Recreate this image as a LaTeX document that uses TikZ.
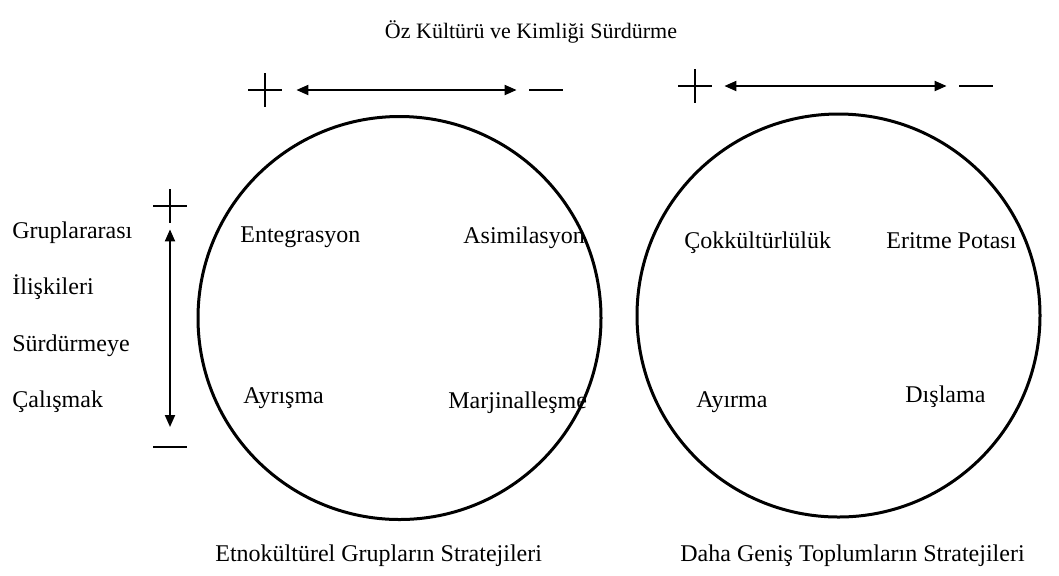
\documentclass[tikz,border=0pt]{standalone}
\usepackage{fontspec}
\setmainfont{Liberation Serif}
\usepackage{tikz}
\usetikzlibrary{positioning, arrows.meta}

\tikzset{
    txt/.style={inner sep=0pt, anchor=base west, font=\fontsize{12}{14}\selectfont},
    strategy/.style={draw, circle, line width=1.5pt, minimum size=201.5pt, inner sep=0pt},
    plussign/.style={minimum size=17pt, inner sep=0pt,
        path picture={\draw[line width=1.4pt]
            (path picture bounding box.north) -- (path picture bounding box.south)
            (path picture bounding box.west) -- (path picture bounding box.east);}},
    minussign/.style={minimum width=17pt, minimum height=1.6pt, inner sep=0pt,
        path picture={\draw[line width=1.4pt]
            (path picture bounding box.west) -- (path picture bounding box.east);}},
    axis/.style={{Triangle[length=6pt, width=5pt]}-{Triangle[length=6pt, width=5pt]}, line width=1pt}
}

\begin{document}
\begin{tikzpicture}[x=0.5pt, y=-0.5pt]
\useasboundingbox (0,0) rectangle (1059,575);

\node[txt, anchor=base, font=\fontsize{11}{13}\selectfont] (title) at (531,38) {Öz Kültürü ve Kimliği Sürdürme};

\node[plussign] (plusA) at (265,90) {};
\node[minussign] (minusA) at (546,90) {};
\draw[axis, shorten <=7pt, shorten >=6pt] (plusA) -- (minusA);

\node[plussign] (plusB) at (695,86) {};
\node[minussign] (minusB) at (976,86) {};
\draw[axis, shorten <=6pt, shorten >=6pt] (plusB) -- (minusB);

\node[plussign] (plusC) at (170,206) {};
\node[minussign] (minusC) at (170,447) {};
\draw[axis, shorten <=3pt, shorten >=9pt] (plusC) -- (minusC);

\node[txt] (grup) at (12,238) {Gruplararası};
\node[txt] (iliski) at (12,294) {İlişkileri};
\node[txt] (surdur) at (12,351) {Sürdürmeye};
\node[txt] (calis) at (12,407) {Çalışmak};

\node[strategy] (ethno) at (399.5,318) {};
\node[strategy] (wider) at (838.5,315.5) {};

\node[txt] (entegr) at (240,242) {Entegrasyon};
\node[txt] (asimil) at (463,243) {Asimilasyon};
\node[txt] (ayrism) at (243,403) {Ayrışma};
\node[txt] (marjin) at (448,408) {Marjinalleşme};

\node[txt] (cokkul) at (684,248) {Çokkültürlülük};
\node[txt] (eritme) at (886,248) {Eritme Potası};
\node[txt] (ayirma) at (696,407) {Ayırma};
\node[txt] (dislam) at (905,402) {Dışlama};

\node[txt] (ethnolbl) at (215,561) {Etnokültürel Grupların Stratejileri};
\node[txt] (widerlbl) at (680,561) {Daha Geniş Toplumların Stratejileri};
\end{tikzpicture}
\end{document}
